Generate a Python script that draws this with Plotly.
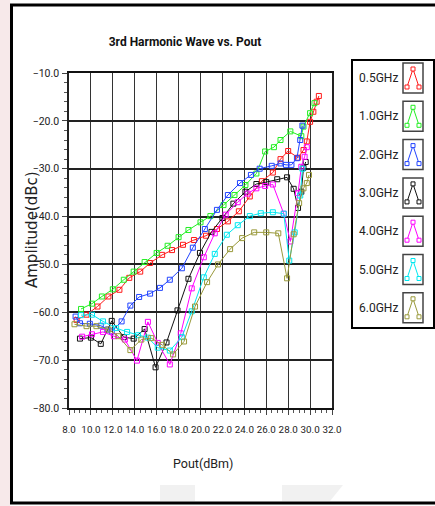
import plotly.graph_objects as go

# Output power (dBm) and 3rd harmonic level (dBc) for each test frequency
pout_05 = [8.7, 9.6, 10.6, 11.6, 12.6, 13.5, 14.5, 15.4, 16.5, 17.4, 18.4, 19.4, 20.5, 21.5, 22.5,
           23.5, 24.5, 25.6, 26.6, 27.3, 28.0, 28.9, 29.4, 29.7, 30.0, 30.3, 30.6, 30.8]
amp_05 = [-61.6, -60.5, -58.8, -56.7, -55.3, -52.8, -51.5, -49.7, -48.0, -47.0, -45.9, -44.9, -44.0,
          -42.6, -41.0, -38.9, -35.8, -32.6, -30.8, -28.0, -26.3, -27.7, -26.1, -24.3, -20.2, -18.1,
          -16.0, -14.8]

pout_10 = [9.1, 10.1, 11.0, 12.0, 13.0, 13.9, 14.9, 16.0, 17.0, 18.0, 18.9, 20.0, 20.9, 22.1, 23.1,
           24.1, 25.1, 25.9, 26.7, 27.3, 28.2, 29.2, 29.4, 30.0, 30.4]
amp_10 = [-59.3, -58.2, -56.7, -55.2, -53.2, -51.5, -49.5, -47.6, -46.1, -44.3, -42.8, -41.2, -39.9,
          -37.6, -35.5, -33.4, -31.0, -26.4, -25.5, -24.0, -22.2, -23.2, -21.2, -18.4, -16.3]

pout_20 = [8.6, 9.0, 9.9, 10.9, 11.5, 11.9, 12.8, 13.6, 14.4, 15.4, 16.3, 17.2, 18.3, 19.3, 20.4,
           21.5, 22.5, 23.6, 24.6, 25.4, 26.5, 27.3, 27.8, 28.3, 28.8, 29.1, 29.3]
amp_20 = [-60.9, -62.3, -62.4, -62.8, -63.6, -64.0, -61.9, -58.6, -56.8, -56.1, -54.9, -53.2, -50.8,
          -46.5, -42.6, -38.6, -35.5, -33.0, -31.3, -30.0, -29.4, -28.9, -29.2, -29.2, -27.8, -24.0,
          -21.0]

pout_30 = [9.0, 10.0, 10.9, 11.9, 13.0, 13.9, 14.9, 15.9, 16.9, 17.9, 18.9, 19.95, 21.0, 22.0, 23.0,
           24.1, 25.1, 26.0, 27.0, 27.9, 28.5, 28.9, 29.2, 29.4, 29.6]
amp_30 = [-65.5, -65.3, -66.6, -61.8, -65.2, -65.5, -63.5, -71.5, -66.3, -59.6, -53.0, -47.6, -43.2,
          -40.3, -37.3, -34.8, -33.2, -32.8, -32.2, -31.8, -34.2, -38.2, -34.8, -29.8, -28.6]

pout_40 = [9.2, 10.1, 11.1, 12.1, 13.1, 14.2, 15.2, 16.1, 17.2, 18.2, 19.2, 20.3, 21.3, 22.3, 23.4,
           24.3, 25.1, 25.9, 26.6, 27.6, 28.2, 28.9, 29.2, 29.5, 29.7]
amp_40 = [-65.1, -64.6, -64.1, -65.0, -65.7, -70.1, -62.0, -66.4, -70.9, -64.4, -55.0, -48.5, -43.5,
          -39.6, -37.0, -35.2, -34.1, -33.6, -33.3, -39.4, -45.2, -35.1, -29.6, -27.5, -25.5]

pout_50 = [9.1, 10.1, 11.1, 12.3, 13.3, 14.3, 15.2, 16.1, 17.2, 18.3, 19.2, 20.3, 21.3, 22.4, 23.4,
           24.5, 25.5, 26.6, 27.6, 28.1, 28.6, 29.1, 29.3]
amp_50 = [-60.6, -60.5, -61.9, -63.3, -64.1, -64.8, -65.3, -67.4, -68.0, -65.2, -59.8, -52.7, -47.8,
          -43.8, -41.8, -39.9, -39.3, -39.1, -39.4, -49.2, -43.3, -35.6, -30.0]

pout_60 = [8.5, 9.6, 10.5, 11.6, 12.5, 13.6, 14.6, 15.5, 16.5, 17.5, 18.5, 19.5, 20.6, 21.6, 22.7,
           23.8, 24.9, 26.0, 27.1, 27.9, 28.5, 29.0, 29.4, 29.7, 29.9]
amp_60 = [-62.5, -62.9, -62.9, -63.6, -65.0, -67.9, -65.7, -65.4, -66.8, -68.8, -66.1, -58.8, -53.7,
          -50.0, -46.8, -44.5, -43.3, -43.3, -43.5, -52.9, -43.7, -37.2, -34.1, -33.0, -31.3]

series_names = ["0.5GHz", "1.0GHz", "2.0GHz", "3.0GHz", "4.0GHz", "5.0GHz", "6.0GHz"]
series_colors = ["#ff1a1a", "#22ee22", "#2244ff", "#111111", "#ff00ff", "#00e8f0", "#99993a"]
series_x = [pout_05, pout_10, pout_20, pout_30, pout_40, pout_50, pout_60]
series_y = [amp_05, amp_10, amp_20, amp_30, amp_40, amp_50, amp_60]

W, H = 435, 506
L, R, T, B = 69, 332, 73, 408          # plot area in pixels


def px(x):
    return (x - L) / (R - L)


def py(y):
    return (B - y) / (B - T)


label_font = "Roboto, sans-serif"

fig = go.Figure()
for name, color, xs, ys in zip(series_names, series_colors, series_x, series_y):
    fig.add_trace(go.Scatter(
        x=xs, y=ys, name=name, mode="lines+markers",
        line=dict(color=color, width=1),
        marker=dict(symbol="square-open", size=5, color=color, line=dict(width=1, color=color)),
        showlegend=False,
    ))

shapes = []
annotations = []

# page decoration: pale strip and the black frame
shapes.append(dict(type="rect", xref="paper", yref="paper", x0=px(0), x1=px(10), y0=py(0), y1=py(W + 100),
                   fillcolor="#f7e9ea", line=dict(width=0), layer="below"))
shapes.append(dict(type="rect", xref="paper", yref="paper", x0=px(11.5), x1=px(450), y0=py(5), y1=py(503),
                   line=dict(color="#000", width=3), fillcolor="rgba(0,0,0,0)"))
shapes.append(dict(type="rect", xref="paper", yref="paper", x0=px(160), x1=px(195), y0=py(485), y1=py(501),
                   fillcolor="#f1f1f1", line=dict(width=0), layer="below"))
shapes.append(dict(type="path", xref="paper", yref="paper",
                   path=f"M {px(282)},{py(485)} L {px(343)},{py(485)} L {px(330)},{py(501)} L {px(282)},{py(501)} Z",
                   fillcolor="#f1f1f1", line=dict(width=0), layer="below"))

# axis titles
annotations.append(dict(x=px(203), y=py(463), xref="paper", yref="paper", text="Pout(dBm)",
                        showarrow=False, font=dict(family=label_font, size=12.5, color="#222"),
                        xanchor="center", yanchor="middle"))
annotations.append(dict(x=px(32), y=py(230), xref="paper", yref="paper", text="Amplitude(dBc)",
                        showarrow=False, textangle=-90,
                        font=dict(family="DejaVu Sans", size=15, color="#222"),
                        xanchor="center", yanchor="middle"))

# custom legend box
shapes.append(dict(type="rect", xref="paper", yref="paper", x0=px(352), x1=px(434), y0=py(60), y1=py(328),
                   line=dict(color="#000", width=2), fillcolor="white"))
row0, step = 78, 38.3
for i, (name, color) in enumerate(zip(series_names, series_colors)):
    cy = row0 + i * step
    annotations.append(dict(x=px(378), y=py(cy), xref="paper", yref="paper", text=name, showarrow=False,
                            font=dict(family=label_font, size=12, color="#222"), xanchor="center",
                            yanchor="middle"))
    shapes.append(dict(type="rect", xref="paper", yref="paper", x0=px(403), x1=px(423), y0=py(cy - 15),
                       y1=py(cy + 15), line=dict(color="#444", width=1.5), fillcolor="white"))
    pts = [(407, cy + 9), (413, cy - 9), (419, cy + 9)]
    path = "M " + " L ".join(f"{px(a)},{py(b)}" for a, b in pts)
    shapes.append(dict(type="path", xref="paper", yref="paper", path=path, line=dict(color=color, width=1)))
    for a, b in pts:
        shapes.append(dict(type="rect", xref="paper", yref="paper", x0=px(a - 2), x1=px(a + 2),
                           y0=py(b - 2), y1=py(b + 2), line=dict(color=color, width=1),
                           fillcolor="white"))

fig.update_layout(
    width=W, height=H,
    margin=dict(l=L, r=W - R, t=T, b=H - B),
    paper_bgcolor="white", plot_bgcolor="white",
    title=dict(text="<b>3rd Harmonic Wave vs. Pout</b>", x=px(185), xref="paper", xanchor="center",
               y=1 - 42 / H, yanchor="middle",
               font=dict(family=label_font, size=12, color="#111")),
    shapes=shapes, annotations=annotations,
)

fig.update_xaxes(
    range=[8, 32], dtick=2, tick0=8, tickformat=".1f", tickangle=0,
    showgrid=True, gridcolor="#333", gridwidth=1,
    showline=True, linecolor="#111", linewidth=2, mirror=True,
    ticks="outside", ticklen=5, tickcolor="#444", ticklabelstandoff=6,
    minor=dict(dtick=0.5, ticks="outside", ticklen=3, tickcolor="#555", showgrid=False),
    tickfont=dict(family=label_font, size=9.8, color="#222"),
    zeroline=False,
)
fig.update_yaxes(
    range=[-80, -10], dtick=10, tick0=-80, tickformat=".1f",
    showgrid=True, gridcolor="#222", gridwidth=2,
    showline=True, linecolor="#222", linewidth=1.5, mirror=True,
    ticks="outside", ticklen=5, tickcolor="#444", ticklabelstandoff=1,
    minor=dict(dtick=2, ticks="outside", ticklen=3, tickcolor="#555", showgrid=False),
    tickfont=dict(family=label_font, size=10.5, color="#222"),
    zeroline=False,
)

fig.write_html("out.html")
